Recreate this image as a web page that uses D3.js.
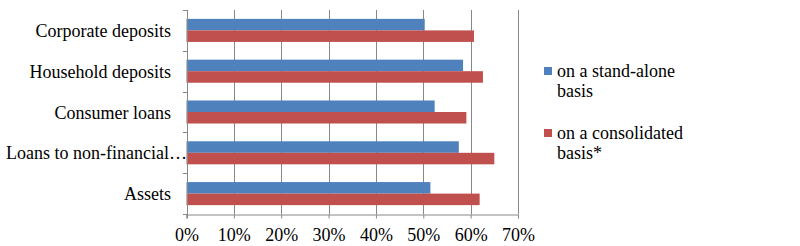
<!DOCTYPE html>
<html>
<head>
<meta charset="utf-8">
<script src="https://cdn.jsdelivr.net/npm/d3@7"></script>
</head>
<body style="margin:0">
<script>
const categories = ["Corporate deposits", "Household deposits", "Consumer loans", "Loans to non-financial\u2026", "Assets"];
const standAlone = [50.3, 58.4, 52.4, 57.5, 51.5];
const consolidated = [60.7, 62.6, 59.1, 65.0, 61.9];
const xTicks = [0, 10, 20, 30, 40, 50, 60, 70];
const seriesNames = [["on a stand-alone", "basis"], ["on a consolidated", "basis*"]];
const colors = ["#4F81BD", "#C0504D"];

const width = 800, height = 246;
const margin = { top: 10, left: 186.5, right: 282, bottom: 32 };

const svg = d3.select("body").append("svg")
  .attr("width", width)
  .attr("height", height);

const x = d3.scaleLinear()
  .domain([0, 70])
  .range([margin.left, width - margin.right]);

const y = d3.scaleBand()
  .domain(categories)
  .range([margin.top, height - margin.bottom])
  .paddingInner(0.435)
  .paddingOuter(0.2175);

const inner = d3.scaleBand()
  .domain([0, 1])
  .range([0, y.bandwidth()]);

function serif(sel) {
  sel.attr("font-family", "Liberation Serif")
    .style("font-family", "'Liberation Serif'")
    .style("font-size", "18px")
    .attr("fill", "#000");
}

// gridlines
svg.append("g")
  .selectAll("line")
  .data(xTicks.slice(1))
  .join("line")
  .attr("x1", d => Math.round(x(d)) + 0.5)
  .attr("x2", d => Math.round(x(d)) + 0.5)
  .attr("y1", margin.top)
  .attr("y2", height - margin.bottom)
  .attr("stroke", "#888");

// bars
const groups = svg.append("g")
  .selectAll("g")
  .data(categories)
  .join("g")
  .attr("transform", d => "translate(0," + y(d) + ")");

groups.selectAll("rect")
  .data((d, i) => [standAlone[i], consolidated[i]])
  .join("rect")
  .attr("x", x(0))
  .attr("y", (d, j) => inner(j))
  .attr("width", d => x(d) - x(0))
  .attr("height", inner.bandwidth())
  .attr("fill", (d, j) => colors[j]);

// x axis
const gx = svg.append("g")
  .attr("transform", "translate(0," + (Math.round(height - margin.bottom) + 0.5) + ")")
  .call(d3.axisBottom(x)
    .tickValues(xTicks)
    .tickFormat(d => d + "%")
    .tickSize(4)
    .tickSizeOuter(4)
    .tickPadding(10));
gx.attr("font-family", "Liberation Serif");
gx.select(".domain").attr("stroke", "#888");
gx.selectAll(".tick line").attr("stroke", "#888");
gx.selectAll(".tick text").call(serif);

// y axis with ticks between categories
const boundaries = d3.range(categories.length + 1).map(i => margin.top + i * (height - margin.top - margin.bottom) / categories.length);
const gy = svg.append("g");
gy.append("line")
  .attr("x1", Math.round(x(0)) + 0.5)
  .attr("x2", Math.round(x(0)) + 0.5)
  .attr("y1", margin.top)
  .attr("y2", height - margin.bottom + 4)
  .attr("stroke", "#888");
gy.selectAll(".tk")
  .data(boundaries)
  .join("line")
  .attr("class", "tk")
  .attr("x1", Math.round(x(0)) - 4)
  .attr("x2", Math.round(x(0)) + 0.5)
  .attr("y1", d => Math.round(d) + 0.5)
  .attr("y2", d => Math.round(d) + 0.5)
  .attr("stroke", "#888");
gy.selectAll("text")
  .data(categories)
  .join("text")
  .attr("x", (d, i) => i === 3 ? 187 : 171)
  .attr("y", d => y(d) + y.bandwidth() / 2 + 6.5)
  .attr("text-anchor", "end")
  .call(serif)
  .text(d => d);

// legend
const legend = svg.append("g");
const legendRows = [67, 129];
seriesNames.forEach((lines, i) => {
  legend.append("rect")
    .attr("x", 544)
    .attr("y", legendRows[i])
    .attr("width", 8)
    .attr("height", 8)
    .attr("fill", colors[i]);
  lines.forEach((t, k) => {
    legend.append("text")
      .attr("x", 557)
      .attr("y", legendRows[i] + 10 + k * 20)
      .call(serif)
      .text(t);
  });
});
</script>
</body>
</html>
